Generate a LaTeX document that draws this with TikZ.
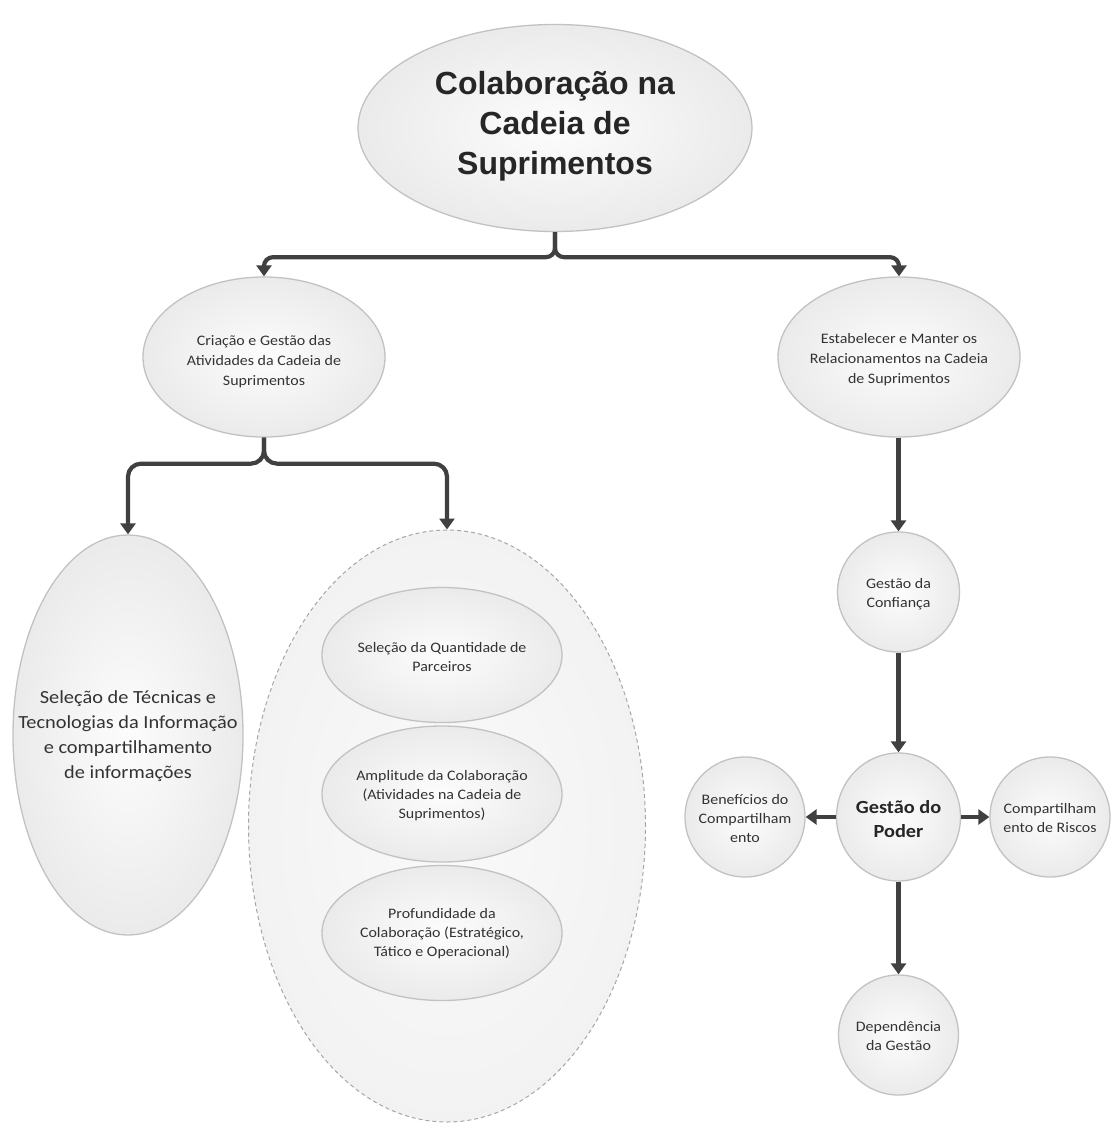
\documentclass[tikz,border=0pt]{standalone}
\usepackage{fontspec}
\setmainfont{Carlito}[FakeStretch=1.1]
\newfontfamily\titlefont{Liberation Sans}
\usetikzlibrary{shapes.geometric,arrows.meta}
\begin{document}
\begin{tikzpicture}[x=1pt,y=-1pt,
  ell/.style={ellipse, draw=black!24, line width=1.3pt, inner color=black!1, outer color=black!8, inner sep=0pt},
  dashell/.style={ellipse, draw=black!35, line width=1pt, dash pattern=on 4pt off 3pt, inner color=black!2, outer color=black!5, inner sep=0pt},
  txt/.style={align=center, font=\fontsize{14.5}{19}\selectfont, text=black!80, inner sep=0pt},
  conn/.style={draw=black!75, line width=4.2pt, -{Triangle[length=11pt,width=15pt]}},
  brace/.style={conn, rounded corners=9pt}]
\useasboundingbox (0,0) rectangle (1112,1128);

% title
\node[ell, minimum width=394, minimum height=207] (title) at (555,128) {};
\node[align=center, inner sep=0pt, text=black!85, font=\titlefont\bfseries\fontsize{32}{40}\selectfont] (titlet) at (555,126) {Colaboração na\\Cadeia de\\Suprimentos};

% second level
\node[ell, minimum width=242, minimum height=160] (crit) at (264,357) {};
\node[txt, font=\fontsize{14.5}{20}\selectfont] (critt) at (264,362) {Criação e Gestão das\\Atividades da Cadeia de\\Suprimentos};
\node[ell, minimum width=242, minimum height=160] (est) at (899,357) {};
\node[txt, font=\fontsize{14.5}{20}\selectfont] (estt) at (899,360) {Estabelecer e Manter os\\Relacionamentos na Cadeia\\de Suprimentos};

% left branch
\node[ell, minimum width=230, minimum height=400] (tec) at (128,735) {};
\node[txt, font=\fontsize{18.5}{25}\selectfont] (tect) at (128,736) {Seleção de Técnicas e\\Tecnologias da Informação\\e compartilhamento\\de informações};

\node[dashell, minimum width=397, minimum height=592] (grp) at (447,826) {};
\node[ell, minimum width=240, minimum height=135] (qtd) at (442,655) {};
\node[txt] (qtdt) at (442,657) {Seleção da Quantidade de\\Parceiros};
\node[ell, minimum width=240, minimum height=136] (amp) at (442,794) {};
\node[txt] (ampt) at (442,796) {Amplitude da Colaboração\\(Atividades na Cadeia de\\Suprimentos)};
\node[ell, minimum width=240, minimum height=135] (prof) at (442,933) {};
\node[txt] (proft) at (442,934) {Profundidade da\\Colaboração (Estratégico,\\Tático e Operacional)};

% right branch
\node[ell, minimum width=122, minimum height=120] (conf) at (898.5,592) {};
\node[txt] (conft) at (898.5,594) {Gestão da\\Confiança};
\node[ell, minimum width=124, minimum height=128] (poder) at (898.5,817) {};
\node[txt, font=\bfseries\fontsize{18.5}{24}\selectfont, text=black!85] (podert) at (898.5,819) {Gestão do\\Poder};
\node[ell, minimum width=120, minimum height=120] (ben) at (745,817) {};
\node[txt] (bent) at (745,819) {Benefícios do\\Compartilham\\ento};
\node[ell, minimum width=120, minimum height=120] (risk) at (1050,817) {};
\node[txt] (riskt) at (1050,818) {Compartilham\\ento de Riscos};
\node[ell, minimum width=120, minimum height=120] (dep) at (898.5,1035) {};
\node[txt] (dept) at (898.5,1036) {Dependência\\da Gestão};

% connectors
\draw[brace] (title.south) -- ++(0,25) -| (crit.north);
\draw[brace] (title.south) -- ++(0,25) -| (est.north);
\draw[brace, rounded corners=13pt] (crit.south) -- ++(0,26) -| (tec.north);
\draw[brace, rounded corners=13pt] (crit.south) -- ++(0,26) -| (grp.north);
\draw[conn] (est.south -| conf.north) -- (conf.north);
\draw[conn] (conf.south) -- (poder.north);
\draw[conn] (poder.west) -- (ben.east);
\draw[conn] (poder.east) -- (risk.west);
\draw[conn] (poder.south) -- (dep.north);
\end{tikzpicture}
\end{document}
